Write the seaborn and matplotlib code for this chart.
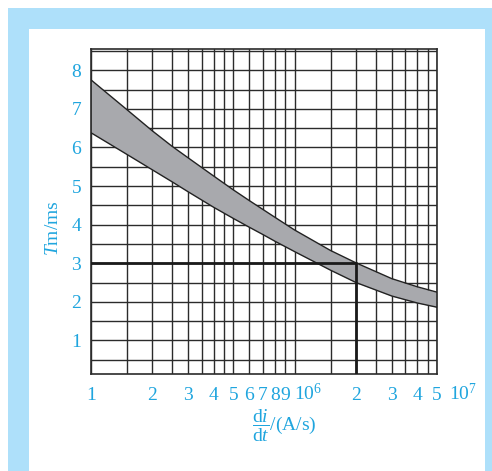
import numpy as np
import pandas as pd
import matplotlib
matplotlib.use("Agg")
import matplotlib.pyplot as plt
import matplotlib.transforms as mtransforms
from matplotlib.patches import Rectangle
import seaborn as sns

# ── DATA ─────────────────────────────────────────────────────
di_dt = [1e5, 1.5e5, 2e5, 2.5e5, 3e5, 4e5, 5e5, 6e5, 7e5, 8e5,
         1e6, 1.5e6, 2e6, 3e6, 4e6, 5e6]                       # A/s
tm_upper = [7.75, 6.98, 6.43, 6.03, 5.73, 5.26, 4.90, 4.62, 4.39, 4.19,
            3.86, 3.33, 3.01, 2.60, 2.39, 2.25]                 # ms
tm_lower = [6.38, 5.82, 5.42, 5.11, 4.85, 4.45, 4.16, 3.93, 3.74, 3.57,
            3.30, 2.82, 2.50, 2.15, 1.97, 1.86]                 # ms

# reading example marked on the chart
ref_x = 2e6
ref_y = 3.0

x_tick_pos = [1e5, 2e5, 3e5, 4e5, 5e5, 6e5, 7e5, 8e5, 9e5, 2e6, 3e6, 4e6, 5e6]
x_tick_lab = ["1", "2", "3", "4", "5", "6", "7", "8", "9", "2", "3", "4", "5"]
y_tick_pos = [1, 2, 3, 4, 5, 6, 7, 8]

grid_x = [1e5, 1.5e5, 2e5, 2.5e5, 3e5, 3.5e5, 4e5, 4.5e5, 5e5, 6e5, 7e5, 8e5, 9e5,
          1e6, 1.5e6, 2e6, 2.5e6, 3e6, 3.5e6, 4e6, 4.5e6, 5e6]
grid_y = np.arange(0.5, 8.51, 0.5)

df = pd.DataFrame({"di_dt": di_dt, "upper": tm_upper, "lower": tm_lower})

# ── STYLE ────────────────────────────────────────────────────
sns.set_style("white")
plt.rcParams["font.family"] = ["Liberation Serif", "DejaVu Serif"]
plt.rcParams["mathtext.fontset"] = "custom"
plt.rcParams["mathtext.rm"] = "Liberation Serif"
plt.rcParams["mathtext.it"] = "Liberation Serif:italic"

TXT = "#1fa5de"
FRAME = "#aee0fa"
GRID = "#2b2b2b"

fig = plt.figure(figsize=(4.92, 4.71), dpi=100)
W, H = 492, 471
# blue frame with white panel (behind the axes)
fig.patches.append(Rectangle((8 / W, 0), 484 / W, 463 / H, transform=fig.transFigure,
                             facecolor=FRAME, edgecolor="none", zorder=-10))
fig.patches.append(Rectangle((29 / W, 0), 456 / W, 442 / H, transform=fig.transFigure,
                             facecolor="white", edgecolor="none", zorder=-9))

ax = fig.add_axes([91 / W, 1 - 374 / H, 346 / W, 325 / H])
ax.set_facecolor("none")

# ── BAND ─────────────────────────────────────────────────────
ax.fill_between(df["di_dt"], df["lower"], df["upper"], color="#a8a9ad", zorder=2, lw=0)
sns.lineplot(data=df, x="di_dt", y="upper", color="#222222", lw=1.0, ax=ax, zorder=3)
sns.lineplot(data=df, x="di_dt", y="lower", color="#222222", lw=1.0, ax=ax, zorder=3)

# reading lines
ax.plot([di_dt[0], ref_x], [ref_y, ref_y], color="#1a1a1a", lw=2.0, zorder=4)
ax.plot([ref_x, ref_x], [0, ref_y], color="#1a1a1a", lw=2.0, zorder=4)

ax.set_xscale("log")
ax.set_xlim(1e5, 5e6)
ax.set_ylim(0.13, 8.55)

# grid
for gx in grid_x:
    ax.axvline(gx, color=GRID, lw=1.0, zorder=1)
for gy in grid_y:
    ax.axhline(gy, color=GRID, lw=1.0, zorder=1)

ax.set_xticks(x_tick_pos)
ax.set_xticklabels(x_tick_lab)
ax.xaxis.set_minor_locator(matplotlib.ticker.NullLocator())
ax.set_yticks(y_tick_pos)
ax.tick_params(axis="both", length=0, labelsize=14, colors=TXT)
ax.tick_params(axis="x", pad=9)
ax.tick_params(axis="y", pad=7)
ax.set_xlabel("")

for s in ax.spines.values():
    s.set_color(GRID)
    s.set_linewidth(1.2)

# decade labels
trans = mtransforms.blended_transform_factory(ax.transData, ax.transAxes)
ax.text(0.99e6, -0.028, r"$10^6$", transform=trans, ha="left", va="top",
        fontsize=14, color=TXT, clip_on=False)
ax.text(5.7e6, -0.028, r"$10^7$", transform=trans, ha="left", va="top",
        fontsize=14, color=TXT, clip_on=False)

# axis titles
ax.text(0.558, -0.16, r"$\dfrac{\mathrm{d}i}{\mathrm{d}t}$/(A/s)", transform=ax.transAxes,
        ha="center", va="center", fontsize=14, color=TXT)
ax.set_ylabel(r"$T$m/ms", fontsize=14, color=TXT)
ax.yaxis.set_label_coords(-0.085, 0.45)

plt.savefig("out.png", dpi=100)
